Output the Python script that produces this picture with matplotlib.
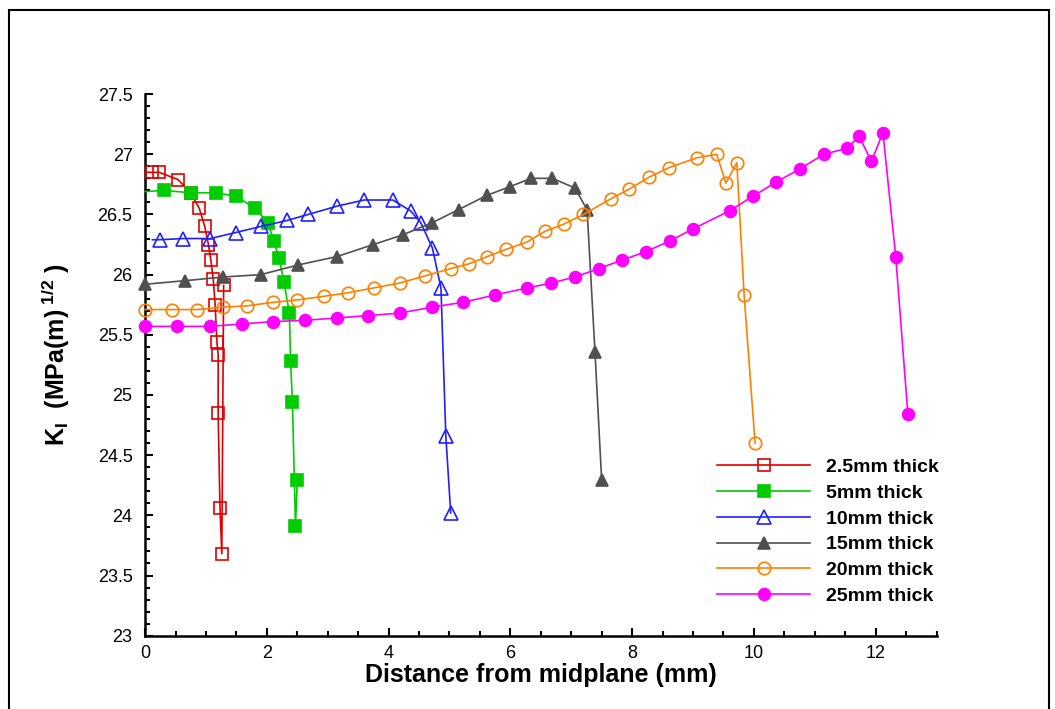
import matplotlib
matplotlib.use("Agg")
import matplotlib.pyplot as plt
from matplotlib.patches import Rectangle
from matplotlib.ticker import MultipleLocator

plt.rcParams['font.family'] = ['Liberation Sans', 'DejaVu Sans']
plt.rcParams['mathtext.fontset'] = 'custom'
plt.rcParams['mathtext.rm'] = 'Liberation Sans:bold'
plt.rcParams['mathtext.bf'] = 'Liberation Sans:bold'
plt.rcParams['mathtext.it'] = 'Liberation Sans:bold'

# Stress intensity factor along the crack front, one series per specimen thickness
x_25 = [0.0, 0.12, 0.23, 0.54, 0.75, 0.89, 0.98, 1.04, 1.08, 1.12, 1.15, 1.18, 1.20, 1.20, 1.23, 1.26, 1.29]
k_25 = [26.85, 26.85, 26.85, 26.79, 26.68, 26.55, 26.40, 26.25, 26.12, 25.96, 25.75, 25.44, 25.33, 24.85, 24.06, 23.68, 25.91]

x_5 = [0.0, 0.31, 0.75, 1.17, 1.50, 1.81, 2.02, 2.11, 2.20, 2.28, 2.37, 2.39, 2.42, 2.47, 2.50]
k_5 = [26.69, 26.70, 26.68, 26.68, 26.65, 26.55, 26.43, 26.28, 26.14, 25.94, 25.68, 25.28, 24.94, 23.91, 24.29]

x_10 = [0.12, 0.24, 0.63, 1.07, 1.49, 1.90, 2.33, 2.68, 3.16, 3.60, 4.07, 4.36, 4.53, 4.72, 4.86, 4.94, 5.02]
k_10 = [26.29, 26.29, 26.30, 26.30, 26.35, 26.40, 26.45, 26.50, 26.57, 26.62, 26.62, 26.53, 26.43, 26.22, 25.89, 24.66, 24.02]

x_15 = [0.0, 0.66, 1.28, 1.90, 2.51, 3.15, 3.75, 4.23, 4.71, 5.15, 5.62, 5.99, 6.34, 6.69, 7.06, 7.26, 7.39, 7.50]
k_15 = [25.92, 25.95, 25.98, 26.00, 26.08, 26.15, 26.25, 26.33, 26.43, 26.54, 26.66, 26.73, 26.80, 26.80, 26.72, 26.54, 25.36, 24.29]

x_20 = [0.0, 0.44, 0.86, 1.28, 1.67, 2.10, 2.50, 2.94, 3.34, 3.76, 4.18, 4.60, 5.02, 5.32, 5.62,
        5.93, 6.27, 6.57, 6.88, 7.20, 7.65, 7.95, 8.28, 8.61, 9.06, 9.39, 9.54, 9.72, 9.84, 10.02]
k_20 = [25.71, 25.71, 25.71, 25.73, 25.74, 25.77, 25.79, 25.82, 25.85, 25.89, 25.93, 25.99, 26.05, 26.09, 26.15,
        26.21, 26.27, 26.36, 26.42, 26.50, 26.63, 26.71, 26.81, 26.89, 26.97, 27.00, 26.76, 26.93, 25.83, 24.60]

x_25mm = [0.0, 0.53, 1.06, 1.59, 2.10, 2.62, 3.15, 3.66, 4.18, 4.71, 5.22, 5.74, 6.28, 6.67, 7.06, 7.45,
          7.83, 8.22, 8.62, 9.00, 9.60, 9.98, 10.37, 10.76, 11.15, 11.53, 11.73, 11.93, 12.12, 12.33, 12.53]
k_25mm = [25.57, 25.57, 25.57, 25.59, 25.61, 25.62, 25.64, 25.66, 25.68, 25.73, 25.77, 25.83, 25.89, 25.93, 25.98, 26.05,
          26.12, 26.19, 26.28, 26.38, 26.53, 26.65, 26.77, 26.88, 27.00, 27.05, 27.15, 26.94, 27.18, 26.15, 24.84]

labels = ['2.5mm thick', '5mm thick', '10mm thick', '15mm thick', '20mm thick', '25mm thick']

x_ticks = [0, 2, 4, 6, 8, 10, 12]
y_ticks = [23, 23.5, 24, 24.5, 25, 25.5, 26, 26.5, 27, 27.5]
y_tick_labels = ['23', '23.5', '24', '24.5', '25', '25.5', '26', '26.5', '27', '27.5']

W, H = 1055, 709
fig = plt.figure(figsize=(W / 100, H / 100), dpi=100)
ax = fig.add_axes([145.1 / W, 1 - 635.7 / H, (936.5 - 145.1) / W, (635.7 - 94.1) / H])

series = [
    (x_25, k_25, dict(color='#e00000', marker='s', mfc='none', ms=9), slice(1, None)),
    (x_5, k_5, dict(color='#00cc00', marker='s', mfc='#00cc00', ms=8), slice(1, None)),
    (x_10, k_10, dict(color='#2020ff', marker='^', mfc='none', ms=10), slice(1, None)),
    (x_15, k_15, dict(color='#505050', marker='^', mfc='#505050', ms=9), None),
    (x_20, k_20, dict(color='#ff8000', marker='o', mfc='none', ms=9), None),
    (x_25mm, k_25mm, dict(color='#ff00ff', marker='o', mfc='#ff00ff', ms=8.5), None),
]

for (xs, ks, style, every), lab in zip(series, labels):
    ax.plot(xs, ks, lw=1.2, mew=1.2, mec=style['color'], markevery=every,
            clip_on=False, label=lab, zorder=3, **style)

ax.set_xlim(0, 13)
ax.set_ylim(23, 27.5)
ax.set_xticks(x_ticks)
ax.set_xticklabels([str(t) for t in x_ticks])
ax.set_yticks(y_ticks)
ax.set_yticklabels(y_tick_labels)
ax.xaxis.set_minor_locator(MultipleLocator(0.5))
ax.yaxis.set_minor_locator(MultipleLocator(0.1))

for side in ('top', 'right'):
    ax.spines[side].set_visible(False)
for side in ('left', 'bottom'):
    ax.spines[side].set_linewidth(1.8)

ax.tick_params(which='both', direction='in', width=1.5, labelsize=13)
ax.tick_params(which='major', length=6)
ax.tick_params(which='minor', length=3.5)
ax.tick_params(axis='y', which='major', pad=9)
ax.tick_params(axis='x', which='major', pad=7)

ax.set_xlabel('Distance from midplane (mm)', fontsize=18, fontweight='bold')
ax.set_ylabel(r'K$_{\mathregular{I}}$  (MPa(m)$^{\ \mathregular{1/2}}$ )', fontsize=18, fontweight='bold')
ax.xaxis.set_label_coords(0.5, -0.05)
ax.yaxis.set_label_coords(-0.092, 0.52)

leg = ax.legend(loc='upper left', bbox_to_anchor=(717 / W, 1 - 458.5 / H),
                bbox_transform=fig.transFigure, frameon=False, numpoints=1,
                prop={'weight': 'bold', 'size': 14}, handlelength=4.8,
                handletextpad=0.8, labelspacing=0.42, borderpad=0, borderaxespad=0)

fig.patches.append(Rectangle((9 / W, -0.01), 1040 / W, 1 - 10 / H + 0.01,
                             transform=fig.transFigure, fill=False,
                             edgecolor='black', lw=1.5))

fig.savefig('out.png', dpi=100)
